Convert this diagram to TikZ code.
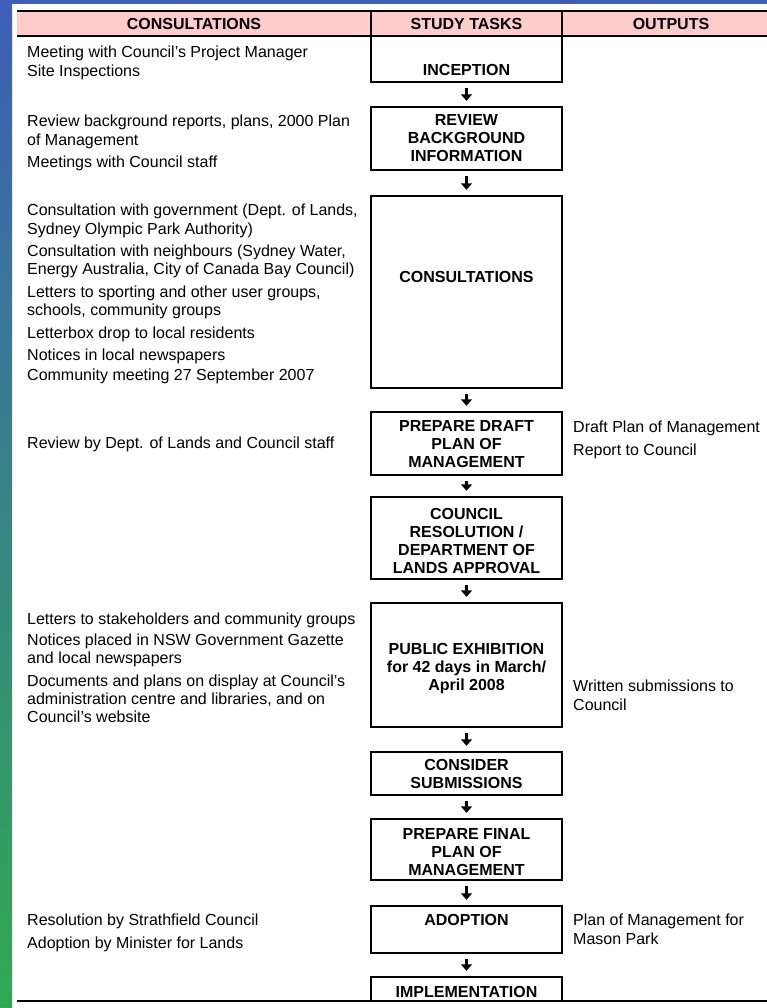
\documentclass[tikz,border=0pt]{standalone}
\usepackage{fontspec}
\setmainfont{Liberation Sans}
\usetikzlibrary{arrows.meta}
\definecolor{bandblue}{RGB}{62,94,184}
\definecolor{bandteal}{RGB}{52,132,142}
\definecolor{bandgreen}{RGB}{48,170,82}
\definecolor{headpink}{RGB}{255,204,204}
\begin{document}
\begin{tikzpicture}[x=1pt,y=-1pt,
  taskbox/.style={draw=black,line width=1.4pt,minimum width=191pt,inner sep=0pt},
  tasktext/.style={font=\fontsize{16}{18}\selectfont\bfseries,align=center,inner sep=0pt},
  notetext/.style={font=\fontsize{16}{18.4}\selectfont,align=left,anchor=north west,inner sep=0pt},
  headtext/.style={font=\fontsize{16}{18}\selectfont\bfseries,inner sep=0pt},
  flow/.style={line width=3pt,-{Triangle[width=11pt,length=6.5pt]},shorten <=5.5pt,shorten >=5.5pt}]
\useasboundingbox(0,0)rectangle(767,1008);
\fill[white](0,0)rectangle(767,1008);
\fill[bandblue](0,0)rectangle(767,4);
\shade[top color=bandblue,middle color=bandteal,bottom color=bandgreen](0,0)rectangle(12,1008);
\fill[headpink](17,11)rectangle(767,36);
\draw[line width=1.4pt](17,11)--(767,11) (17,36)--(767,36) (371,11)--(371,36) (562,11)--(562,36);
\draw[line width=1.4pt](17,1001)--(767,1001);
\node[headtext](hcons) at (194,24){CONSULTATIONS};
\node[headtext](htask) at (466.5,24){STUDY TASKS};
\node[headtext](hout) at (671,24){OUTPUTS};
\node[taskbox,minimum height=46pt](incep) at (466.5,59){};
\node[taskbox,minimum height=63pt](review) at (466.5,138.5){};
\node[taskbox,minimum height=192pt](consult) at (466.5,292){};
\node[taskbox,minimum height=63pt](draft) at (466.5,443.5){};
\node[taskbox,minimum height=82pt](council) at (466.5,538){};
\node[taskbox,minimum height=124pt](exhib) at (466.5,665){};
\node[taskbox,minimum height=43pt](consider) at (466.5,773.5){};
\node[taskbox,minimum height=61pt](final) at (466.5,849.5){};
\node[taskbox,minimum height=47pt](adopt) at (466.5,929.5){};
\node[taskbox,minimum height=24pt](implem) at (466.5,989){};
\node[tasktext](incept) at (466.5,70){INCEPTION};
\node[tasktext](reviewt) at (466.5,138){REVIEW\\BACKGROUND\\INFORMATION};
\node[tasktext](consultt) at (466.5,277){CONSULTATIONS};
\node[tasktext](draftt) at (466.5,444.5){PREPARE DRAFT\\PLAN OF\\MANAGEMENT};
\node[tasktext](councilt) at (466.5,540.5){COUNCIL\\RESOLUTION /\\DEPARTMENT OF\\LANDS APPROVAL};
\node[tasktext](exhibt) at (466.5,668.5){PUBLIC EXHIBITION\\for 42 days in March/\\April 2008};
\node[tasktext](considert) at (466.5,774){CONSIDER\\SUBMISSIONS};
\node[tasktext](finalt) at (466.5,852){PREPARE FINAL\\PLAN OF\\MANAGEMENT};
\node[tasktext](adoptt) at (466.5,920){ADOPTION};
\node[tasktext](implemt) at (466.5,992){IMPLEMENTATION};
\foreach \a/\b in {incep/review,review/consult,consult/draft,draft/council,council/exhib,exhib/consider,consider/final,final/adopt,adopt/implem}
  \draw[flow](\a.south)--(\b.north);
\node[notetext](incepn) at (27,46){Meeting with Council's Project Manager\\Site Inspections};
\node[notetext](reviewn) at (27,115){Review background reports, plans, 2000 Plan\\of Management\\[4pt]Meetings with Council staff};
\node[notetext](consultn) at (27,204){Consultation with government (Dept. of Lands,\\Sydney Olympic Park Authority)\\[4pt]Consultation with neighbours (Sydney Water,\\Energy Australia, City of Canada Bay Council)\\[4pt]Letters to sporting and other user groups,\\schools, community groups\\[4pt]Letterbox drop to local residents\\[4pt]Notices in local newspapers\\[2pt]Community meeting 27 September 2007};
\node[notetext](draftn) at (27,437){Review by Dept. of Lands and Council staff};
\node[notetext](exhibn) at (27,613){Letters to stakeholders and community groups\\[2pt]Notices placed in NSW Government Gazette\\and local newspapers\\[4pt]Documents and plans on display at Council's\\administration centre and libraries, and on\\Council's website};
\node[notetext](adoptn) at (27,914){Resolution by Strathfield Council\\[4pt]Adoption by Minister for Lands};
\node[notetext](draftout) at (573,421){Draft Plan of Management\\[4pt]Report to Council};
\node[notetext](exhibout) at (573,680){Written submissions to\\Council};
\node[notetext](adoptout) at (573,914){Plan of Management for\\Mason Park};
\end{tikzpicture}
\end{document}
